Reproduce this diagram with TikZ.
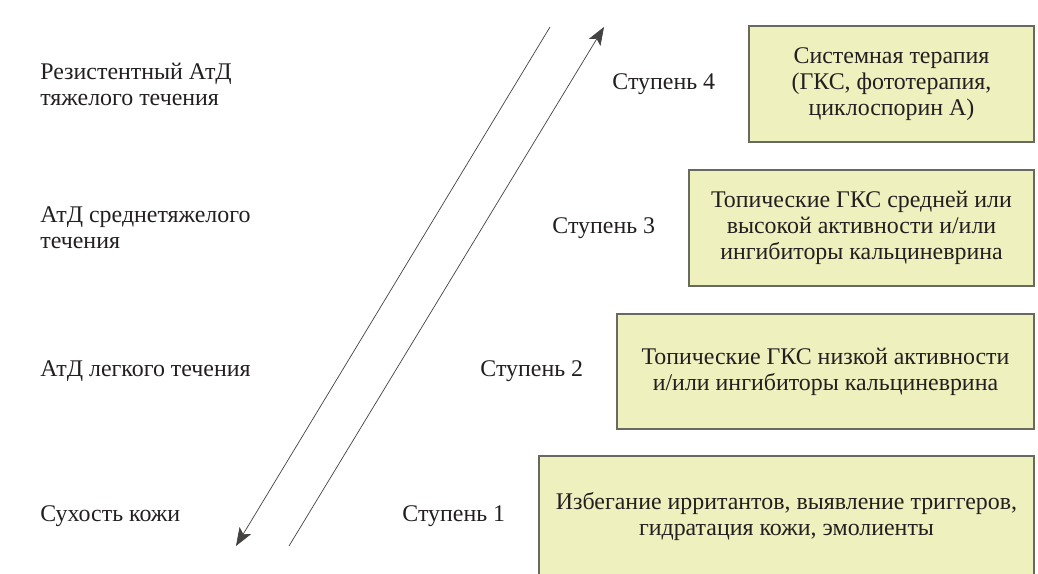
\documentclass[tikz,border=0pt]{standalone}
\usepackage{fontspec}
\setmainfont{Liberation Serif}
\usetikzlibrary{positioning,arrows.meta}
\definecolor{boxfill}{RGB}{238,240,190}
\definecolor{boxline}{RGB}{105,105,95}
\definecolor{ink}{RGB}{35,31,32}
\begin{document}
\begin{tikzpicture}[
        font=\fontsize{13.6}{14.8}\selectfont, text=ink,
        stage/.style={draw=boxline, fill=boxfill, align=center, inner sep=0pt, line width=0.6pt},
        steplbl/.style={inner sep=0pt},
        sev/.style={anchor=west, align=left, inner sep=0pt},
        arr/.style={draw=ink!85, line width=0.4pt, -{Stealth[length=3.6mm, width=2.7mm, inset=0.8mm]}}
    ]
        \useasboundingbox (0,0) rectangle (20.76,11.46);

        % treatment boxes
        \node[stage, minimum width=5.70cm, minimum height=2.32cm] (b4) at (17.83, 9.78)
            {Системная терапия\\(ГКС, фототерапия,\\циклоспорин А)};
        \node[stage, minimum width=6.90cm, minimum height=2.32cm] (b3) at (17.23, 6.90)
            {Топические ГКС средней или\\высокой активности и/или\\ингибиторы кальциневрина};
        \node[stage, minimum width=8.34cm, minimum height=2.30cm] (b2) at (16.51, 4.03)
            {Топические ГКС низкой активности\\и/или ингибиторы кальциневрина};
        \node[stage, minimum width=9.90cm, minimum height=2.40cm] (b1) at (15.73, 1.14)
            {Избегание ирритантов, выявление триггеров,\\гидратация кожи, эмолиенты};

        % steps
        \node[steplbl, left=6.6mm of b4] (s4) {Ступень 4};
        \node[steplbl, left=6.6mm of b3] (s3) {Ступень 3};
        \node[steplbl, left=6.6mm of b2] (s2) {Ступень 2};
        \node[steplbl, left=6.6mm of b1] (s1) {Ступень 1};

        % severity
        \coordinate (lft) at (0.8, 0);
        \node[sev] (l4) at (s4 -| lft) {Резистентный АтД\\тяжелого течения};
        \node[sev] (l3) at (s3 -| lft) {АтД среднетяжелого\\течения};
        \node[sev] (l2) at (s2 -| lft) {АтД легкого течения};
        \node[sev] (l1) at (s1 -| lft) {Сухость кожи};

        \coordinate (dtop) at (11.00, 10.92);
        \coordinate (dbot) at (4.72, 0.54);
        \coordinate (ubot) at (5.78, 0.54);
        \coordinate (utop) at (12.08, 10.92);
        \draw[arr] (dtop) -- (dbot);
        \draw[arr] (ubot) -- (utop);
    \end{tikzpicture}
\end{document}
